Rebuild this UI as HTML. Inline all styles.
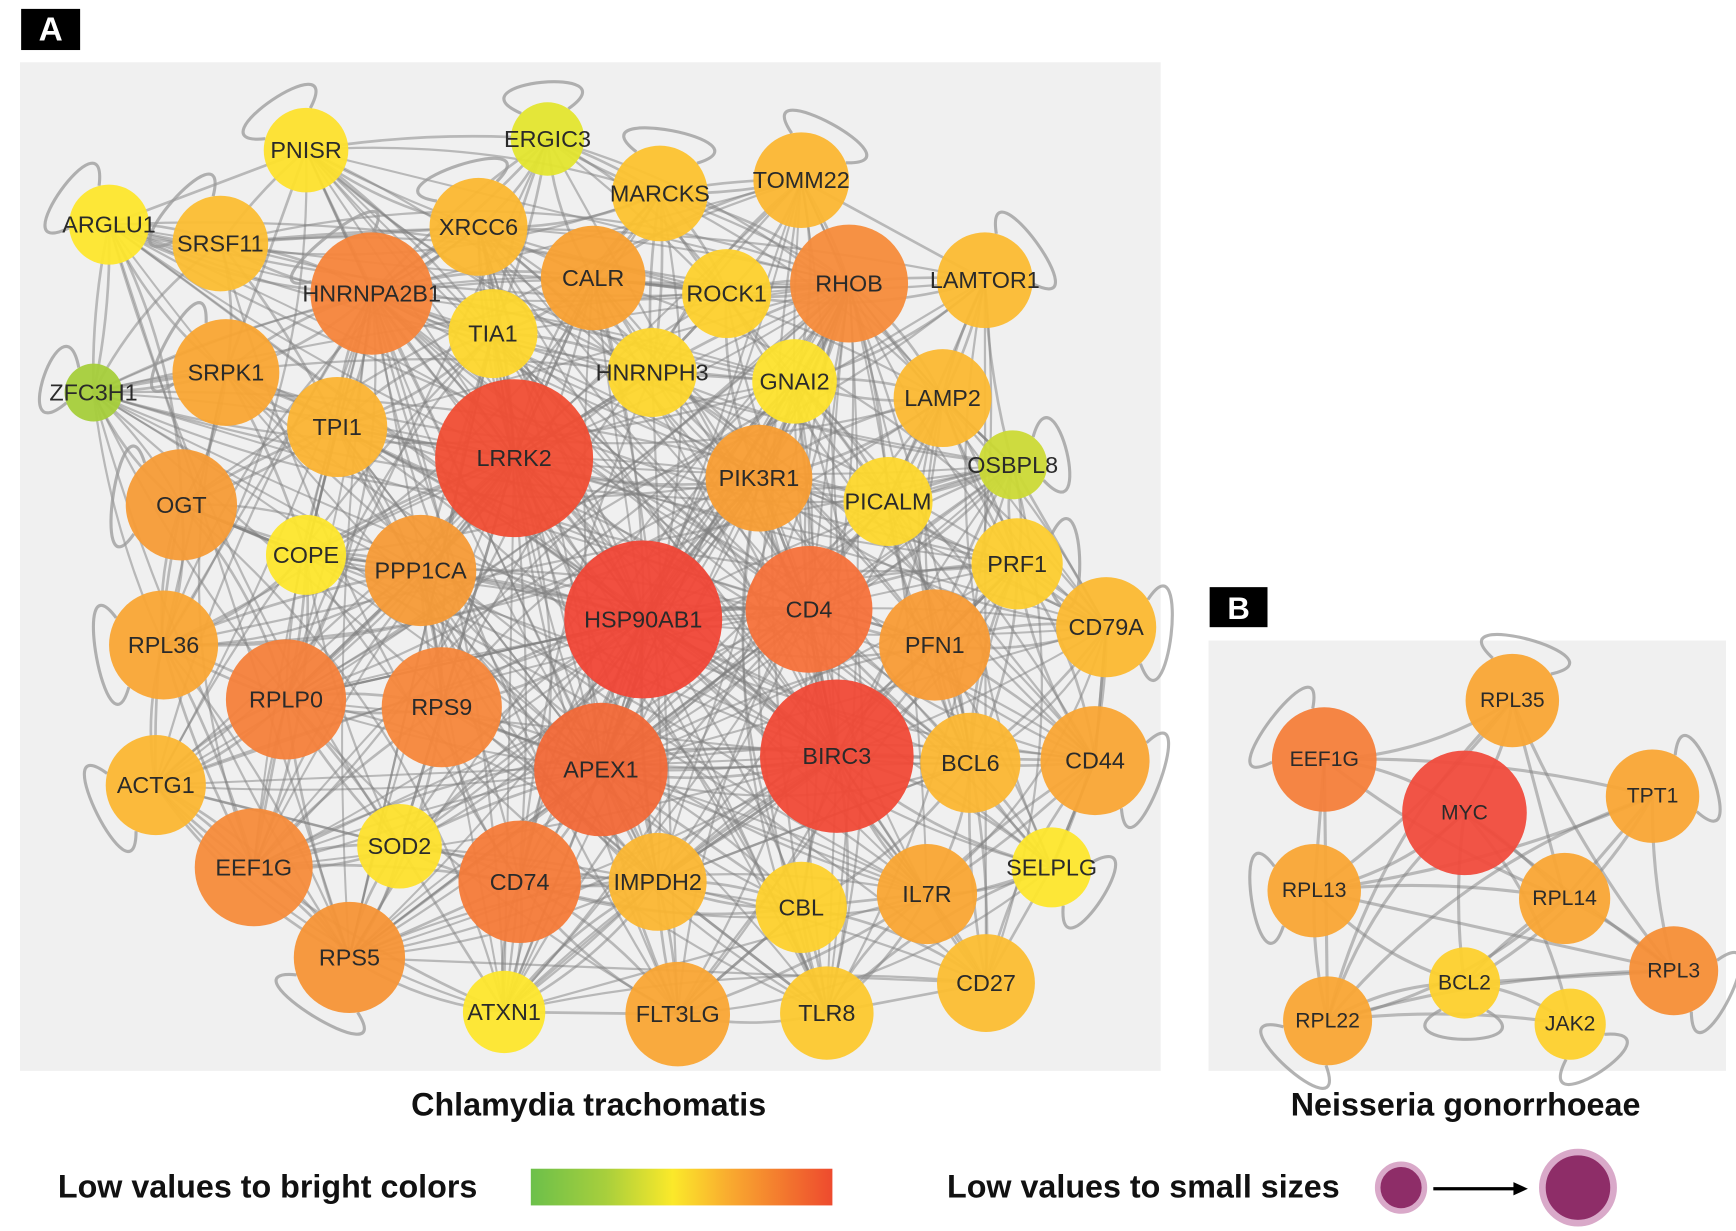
<!DOCTYPE html>
<html><head><meta charset="utf-8"><style>
html,body{margin:0;padding:0;background:#fff;}
svg{display:block;}
.lbl{font-family:"Liberation Sans",sans-serif;fill:#2a2a2a;text-anchor:middle;dominant-baseline:central;}
.ttl{font-family:"Liberation Sans Narrow","Liberation Sans",sans-serif;font-weight:bold;fill:#111;}
</style></head><body>
<svg id="fig" width="1736" height="1231" viewBox="0 0 1560 1107" preserveAspectRatio="none" xmlns="http://www.w3.org/2000/svg">
<defs>
<linearGradient id="grad" x1="0" x2="1" y1="0" y2="0">
<stop offset="0" stop-color="#6cc04a"/><stop offset="0.25" stop-color="#a8cf3c"/><stop offset="0.47" stop-color="#fbe92a"/><stop offset="0.65" stop-color="#f9ad2f"/><stop offset="1" stop-color="#ee4a2e"/>
</linearGradient>
</defs>
<rect x="19" y="8" width="53" height="37" fill="#000"/>
<text x="45.5" y="27" class="lbl" style="fill:#fff;font-weight:bold;font-size:30px">A</text>
<rect x="18" y="56" width="1025" height="907" fill="#f0f0f0"/>
<rect x="1087" y="528" width="52" height="36" fill="#000"/>
<text x="1113" y="547" class="lbl" style="fill:#fff;font-weight:bold;font-size:28px">B</text>
<rect x="1086" y="576" width="465" height="387" fill="#f0f0f0"/>
<g id="edgesA"></g>
<g id="edgesB"></g>
<g id="nodesA"></g>
<g id="nodesB"></g>
<text class="ttl" x="529" y="1003" text-anchor="middle" font-size="29">Chlamydia trachomatis</text>
<text class="ttl" x="1317" y="1003" text-anchor="middle" font-size="29">Neisseria gonorrhoeae</text>
<text class="ttl" x="52" y="1077" font-size="29">Low values to bright colors</text>
<rect x="477" y="1051" width="271" height="33" fill="url(#grad)"/>
<text class="ttl" x="851" y="1077" font-size="29">Low values to small sizes</text>
<circle cx="1259" cy="1068" r="21" fill="#8e2d68" stroke="#d9a9c9" stroke-width="5"/>
<line x1="1288" y1="1069" x2="1362" y2="1069" stroke="#000" stroke-width="3"/>
<polygon points="1360,1063 1373,1069 1360,1075" fill="#000"/>
<circle cx="1418" cy="1068" r="32" fill="#8e2d68" stroke="#d9a9c9" stroke-width="6"/>
</svg>
<script>
const namesA=["PNISR","ERGIC3","ARGLU1","SRSF11","XRCC6","MARCKS","TOMM22","HNRNPA2B1","CALR","ROCK1","RHOB","LAMTOR1","TIA1","HNRNPH3","GNAI2","LAMP2","ZFC3H1","SRPK1","TPI1","LRRK2","PIK3R1","PICALM","OSBPL8","OGT","COPE","PPP1CA","HSP90AB1","CD4","PRF1","PFN1","CD79A","RPL36","RPLP0","RPS9","APEX1","BIRC3","BCL6","CD44","ACTG1","SOD2","EEF1G","CD74","IMPDH2","CBL","IL7R","SELPLG","RPS5","CD27","ATXN1","FLT3LG","TLR8"];
const xA=[275,492,98,198,430,593,720,334,533,653,763,885,443,586,714,847,84,203,303,462,682,798,910,163,275,378,578,727,914,840,994,147,257,397,540,752,872,984,140,359,228,467,591,720,833,945,314,886,453,609,743];
const yA=[135,125,202,219,204,174,162,264,250,264,255,252,300,335,343,358,353,335,384,412,430,451,418,454,499,513,557,548,507,580,564,580,629,636,692,680,686,684,706,761,780,793,793,816,804,780,861,884,910,912,911];
const rA=[38,33,36,43,44,43,43,55,47,40,53,43,40,40,38,44,26,48,45,71,48,40,31,50,36,50,71,57,41,50,45,49,54,54,60,69,45,49,45,38,53,55,44,41,45,36,50,44,37,47,42];
const cA=["#fde02c","#e3e52e","#fde62c","#fbbd31","#fbb730","#fcc22e","#fbb631","#f5843a","#f8a032","#fdd02c","#f68b3a","#fbba31","#fdd62c","#fdd62c","#fde22c","#fbb831","#a5cd3a","#f9a533","#fbb331","#f04d33","#f89d33","#fdd72c","#cbd935","#f69b36","#fde62c","#f69a36","#f04636","#f5713a","#fccc2e","#f89b35","#fbb830","#f9a534","#f4803a","#f6863a","#f16837","#f04936","#fbb631","#f9a534","#fbb631","#fde02c","#f68b3a","#f47a38","#fbb631","#fdd02c","#f9a533","#fde62c","#f69436","#fbbd31","#fde62c","#f9a534","#fcc82e"];
const namesB=["EEF1G","RPL35","MYC","TPT1","RPL13","RPL14","RPL3","BCL2","RPL22","JAK2"];
const xB=[1190,1359,1316,1485,1181,1406,1504,1316,1193,1411];
const yB=[683,630,731,716,801,808,873,884,918,921];
const rB=[47,42,56,42,42,41,40,32,40,32];
const cB=["#f47e3a","#f9a534","#f04b3c","#f9a534","#f9a534","#f9a534","#f68e36","#fdd02c","#f9a534","#fdd02c"];
const edgesB=[[0,2],[0,3],[0,4],[0,5],[0,1],[1,2],[1,4],[1,5],[1,6],[1,8],[2,4],[2,5],[2,6],[2,7],[2,8],[2,9],[3,4],[3,5],[3,6],[3,8],[3,7],[4,5],[4,6],[4,8],[4,7],[5,8],[5,6],[6,7],[6,8],[7,8],[7,9],[8,9],[0,8],[5,7]];
const loopsA=[0,1,2,3,4,6,16,23,31,38,46,28,30,45,7,5,22,17,11,37];
const loopsB=[0,1,3,4,8,7,9,6];
const NS="http://www.w3.org/2000/svg";
function mk(t,a){const e=document.createElementNS(NS,t);for(const k in a)e.setAttribute(k,a[k]);return e;}
function edge(g,x1,y1,x2,y2,w,bend){
  const mx=(x1+x2)/2,my=(y1+y2)/2,dx=x2-x1,dy=y2-y1;
  const p=mk('path',{d:`M${x1},${y1} Q${mx-dy*bend},${my+dx*bend} ${x2},${y2}`,fill:'none',stroke:'#808080','stroke-opacity':0.5,'stroke-width':w});
  
  
  g.appendChild(p);
}
function loop(g,x,y,r,ang){
  const a1=ang-0.7,a2=ang+0.7,L=r+70;
  const d=`M${x+r*Math.cos(a1)},${y+r*Math.sin(a1)} C${x+L*Math.cos(a1-0.25)},${y+L*Math.sin(a1-0.25)} ${x+L*Math.cos(a2+0.25)},${y+L*Math.sin(a2+0.25)} ${x+r*Math.cos(a2)},${y+r*Math.sin(a2)}`;
  const p=mk('path',{d:d,fill:'none',stroke:'#999','stroke-opacity':0.75,'stroke-width':2.8});
  
  
  g.appendChild(p);
}
const gEA=document.getElementById('edgesA');
const n=namesA.length;
for(let i=0;i<n;i++){
  const d=[];
  for(let j=0;j<n;j++)if(j!==i)d.push([Math.hypot(xA[i]-xA[j],yA[i]-yA[j]),j]);
  d.sort((a,b)=>a[0]-b[0]);
  const k=Math.round(rA[i]/6);
  for(let m=0;m<k;m++){const j=d[m][1];if(j>i||m%2==0)edge(gEA,xA[i],yA[i],xA[j],yA[j],2.4,((i+j)%5-2)*0.06);}
  for(let m=k;m<k+4;m++){const j=d[(m*3+i)%(n-1)][1];edge(gEA,xA[i],yA[i],xA[j],yA[j],2,((i*j)%5-2)*0.08);}
}
const hubs=[19,26,35,34,27,7,10];
hubs.forEach(h=>{for(let j=0;j<n;j+=2){if(j!==h)edge(gEA,xA[h],yA[h],xA[j],yA[j],1.8,((h+j)%3-1)*0.05);}});
const cx=530,cy=510;
loopsA.forEach(i=>loop(gEA,xA[i],yA[i],rA[i],Math.atan2(yA[i]-cy,xA[i]-cx)));
const gEB=document.getElementById('edgesB');
edgesB.forEach((e,k)=>edge(gEB,xB[e[0]],yB[e[0]],xB[e[1]],yB[e[1]],2.8,((k%5)-2)*0.07));
loopsB.forEach(i=>loop(gEB,xB[i],yB[i],rB[i],Math.atan2(yB[i]-780,xB[i]-1318)));
function nodes(gid,names,xs,ys,rs,cs,fs){
  const g=document.getElementById(gid);
  for(let i=0;i<names.length;i++){
    const c=mk('circle',{cx:xs[i],cy:ys[i],r:rs[i],fill:cs[i],'fill-opacity':0.95});
    
    
    g.appendChild(c);
    const t=mk('text',{x:xs[i],y:ys[i],class:'lbl','font-size':fs});
    
    
    t.textContent=names[i];
    g.appendChild(t);
  }
}
nodes('nodesA',namesA,xA,yA,rA,cA,21);
nodes('nodesB',namesB,xB,yB,rB,cB,19);
</script>
</body></html>
